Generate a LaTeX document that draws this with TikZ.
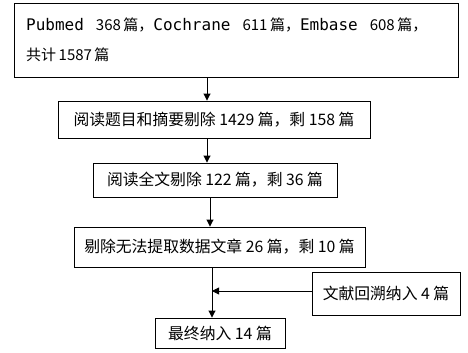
\documentclass[tikz,border=0pt]{standalone}
\usepackage{fontspec}
\newfontfamily\cjk{Noto Sans CJK SC}
\newfontfamily\monof{DejaVu Sans Mono}
\newcommand{\mtxt}[1]{{\monof\fontsize{16}{30}\selectfont #1}}
\usetikzlibrary{arrows.meta}
\begin{document}
\begin{tikzpicture}[x=1pt,y=-1pt,
  box/.style={draw=black,line width=0.9pt,inner sep=0pt,font=\cjk\fontsize{15.8}{20}\selectfont},
  arr/.style={draw=black,line width=0.9pt,-{Triangle[length=7pt,width=7pt]}}]
\useasboundingbox (0,0) rectangle (468,353);
\node[box,minimum width=444pt,minimum height=74pt] (a) at (236,40) {};
\node[anchor=north west,align=left,inner sep=0pt,font=\cjk\fontsize{15}{30}\selectfont] (at) at (26,18)
  {\mtxt{Pubmed}\hspace{12pt}368\,篇，\mtxt{Cochrane}\hspace{12pt}611\,篇，\mtxt{Embase}\hspace{12pt}608\,篇，\\共计\,1587\,篇};
\node[box,minimum width=312pt,minimum height=37pt] (b) at (214,119.5) {阅读题目和摘要剔除 1429 篇，剩 158 篇};
\node[box,minimum width=244pt,minimum height=34pt] (c) at (215,180) {阅读全文剔除 122 篇，剩 36 篇};
\node[box,minimum width=291pt,minimum height=40pt] (d) at (219.5,247) {剔除无法提取数据文章 26 篇，剩 10 篇};
\node[box,minimum width=148pt,minimum height=43pt] (s) at (386,293.5) {文献回溯纳入 4 篇};
\node[box,minimum width=130pt,minimum height=30pt] (e) at (220,333) {最终纳入 14 篇};
\coordinate (m) at (212,291);
\draw[arr] (a.south -| 207,0) -- (b.north -| 207,0);
\draw[arr] (b.south -| 207,0) -- (c.north -| 207,0);
\draw[arr] (c.south -| 210,0) -- (d.north -| 210,0);
\draw[arr] (d.south -| m) -- (e.north -| m);
\draw[arr] (s.west |- m) -- (m);
\end{tikzpicture}
\end{document}
